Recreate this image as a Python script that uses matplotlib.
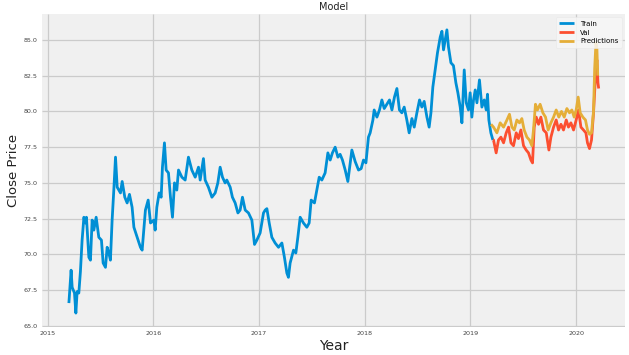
import matplotlib
matplotlib.use("Agg")
import matplotlib.pyplot as plt

plt.style.use("fivethirtyeight")

# decimal-year positions and close prices
train_year = [2015.201, 2015.222, 2015.232, 2015.254, 2015.267, 2015.279, 2015.295, 2015.310,
              2015.326, 2015.343, 2015.358, 2015.367, 2015.390, 2015.405, 2015.421, 2015.437,
              2015.459, 2015.484, 2015.509, 2015.525, 2015.547, 2015.563, 2015.579, 2015.594,
              2015.610, 2015.626, 2015.642, 2015.658, 2015.689, 2015.705, 2015.730, 2015.752,
              2015.774, 2015.799, 2015.816, 2015.847, 2015.878, 2015.894, 2015.910, 2015.925,
              2015.951, 2015.973, 2016.005, 2016.017, 2016.033, 2016.055, 2016.074, 2016.086,
              2016.105, 2016.121, 2016.143, 2016.162, 2016.181, 2016.200, 2016.222, 2016.238,
              2016.270, 2016.301, 2016.332, 2016.364, 2016.396, 2016.427, 2016.443, 2016.474,
              2016.490, 2016.521, 2016.554, 2016.585, 2016.610, 2016.632, 2016.654, 2016.679,
              2016.695, 2016.727, 2016.748, 2016.774, 2016.800, 2016.821, 2016.843, 2016.869,
              2016.900, 2016.932, 2016.957, 2016.979, 2017.010, 2017.042, 2017.058, 2017.074,
              2017.096, 2017.121, 2017.152, 2017.184, 2017.216, 2017.240, 2017.263, 2017.278,
              2017.294, 2017.326, 2017.348, 2017.367, 2017.389, 2017.420, 2017.452, 2017.474,
              2017.493, 2017.524, 2017.547, 2017.569, 2017.594, 2017.625, 2017.651, 2017.673,
              2017.694, 2017.720, 2017.746, 2017.767, 2017.789, 2017.815, 2017.840, 2017.862,
              2017.878, 2017.909, 2017.941, 2017.966, 2017.988, 2018.011, 2018.035, 2018.051,
              2018.077, 2018.089, 2018.115, 2018.139, 2018.162, 2018.184, 2018.209, 2018.234,
              2018.257, 2018.281, 2018.304, 2018.328, 2018.351, 2018.373, 2018.398, 2018.420,
              2018.446, 2018.468, 2018.493, 2018.518, 2018.540, 2018.562, 2018.588, 2018.609,
              2018.626, 2018.644, 2018.666, 2018.688, 2018.714, 2018.730, 2018.745, 2018.761,
              2018.777, 2018.792, 2018.815, 2018.839, 2018.862, 2018.881, 2018.903, 2018.919,
              2018.941, 2018.960, 2018.981, 2018.997, 2019.013, 2019.029, 2019.045, 2019.061,
              2019.085, 2019.108, 2019.130, 2019.149, 2019.161, 2019.174, 2019.193, 2019.212]
train_close = [66.6, 68.9, 67.7, 67.3, 65.9, 67.4, 67.3, 68.8,
               71.0, 72.6, 72.2, 72.6, 69.8, 69.6, 72.4, 71.7,
               72.6, 71.2, 71.0, 69.4, 69.1, 70.5, 70.1, 69.6,
               72.4, 74.5, 76.8, 74.7, 74.3, 75.1, 74.0, 73.6,
               74.2, 73.3, 71.9, 71.2, 70.5, 70.3, 71.7, 73.1,
               73.8, 72.2, 72.4, 71.7, 73.3, 74.3, 74.0, 76.1,
               77.8, 75.9, 75.7, 74.0, 72.6, 75.0, 74.5, 75.9,
               75.4, 75.2, 76.8, 75.9, 75.4, 76.1, 75.2, 76.7,
               75.2, 74.7, 74.0, 74.3, 75.0, 76.1, 75.4, 75.0,
               75.2, 74.7, 74.0, 73.6, 72.9, 73.1, 74.0, 73.1,
               72.9, 72.4, 70.7, 71.0, 71.5, 72.9, 73.1, 73.2,
               72.2, 71.2, 70.8, 70.5, 70.8, 69.8, 68.7, 68.4,
               69.4, 70.3, 70.1, 71.2, 72.6, 72.2, 71.9, 72.2,
               73.8, 73.6, 74.5, 75.4, 75.2, 75.7, 77.1, 76.6,
               77.1, 77.5, 76.8, 77.0, 76.6, 75.9, 75.1, 76.4,
               77.3, 76.5, 75.9, 76.0, 76.6, 76.4, 78.2, 78.5,
               79.4, 80.1, 79.6, 80.1, 80.8, 80.2, 80.5, 80.8,
               80.1, 81.0, 81.6, 80.1, 79.9, 80.3, 79.4, 78.5,
               79.5, 78.9, 79.9, 80.8, 80.3, 80.7, 79.6, 78.9,
               79.9, 81.7, 82.9, 84.1, 85.2, 85.6, 84.3, 85.0,
               85.7, 84.5, 83.4, 83.2, 82.0, 81.3, 80.3, 79.2,
               82.9, 80.6, 80.1, 81.3, 79.6, 80.8, 81.5, 80.6,
               82.2, 80.3, 80.8, 80.1, 81.2, 79.4, 78.5, 78.0]

val_year = [2019.212, 2019.218, 2019.243, 2019.265, 2019.288, 2019.313, 2019.338, 2019.360,
            2019.383, 2019.407, 2019.433, 2019.454, 2019.477, 2019.502, 2019.527, 2019.549,
            2019.572, 2019.587, 2019.603, 2019.622, 2019.644, 2019.666, 2019.691, 2019.717,
            2019.742, 2019.761, 2019.786, 2019.811, 2019.833, 2019.856, 2019.880, 2019.906,
            2019.927, 2019.950, 2019.975, 2020.000, 2020.022, 2020.045, 2020.069, 2020.092,
            2020.107, 2020.126, 2020.145, 2020.164, 2020.183, 2020.196, 2020.206, 2020.213]
val_close = [78.0, 78.0, 77.1, 78.0, 78.2, 77.8, 78.5, 78.9,
             77.8, 77.6, 78.5, 78.1, 78.7, 77.6, 77.3, 77.1,
             76.6, 76.4, 78.9, 79.6, 79.1, 79.6, 78.7, 78.5,
             77.3, 78.2, 78.9, 79.4, 78.7, 79.1, 78.7, 79.4,
             78.9, 79.2, 78.7, 79.4, 80.1, 78.9, 78.7, 78.5,
             77.8, 77.4, 78.0, 79.9, 82.5, 83.6, 82.0, 81.6]

pred_year = [2019.194, 2019.218, 2019.250, 2019.281, 2019.313, 2019.345, 2019.369, 2019.392,
             2019.414, 2019.439, 2019.464, 2019.486, 2019.508, 2019.534, 2019.558, 2019.581,
             2019.596, 2019.615, 2019.634, 2019.659, 2019.685, 2019.710, 2019.735, 2019.761,
             2019.786, 2019.811, 2019.836, 2019.861, 2019.887, 2019.912, 2019.937, 2019.959,
             2019.981, 2020.000, 2020.019, 2020.038, 2020.063, 2020.088, 2020.107, 2020.126,
             2020.145, 2020.164, 2020.175, 2020.187, 2020.196, 2020.204]
pred_close = [79.1, 78.9, 78.5, 79.2, 78.9, 79.4, 79.8, 78.9,
              78.7, 79.4, 79.2, 79.5, 78.7, 78.2, 78.0, 77.6,
              78.7, 80.5, 80.1, 80.5, 79.9, 79.6, 78.7, 79.2,
              79.6, 80.1, 79.6, 80.0, 79.6, 80.2, 79.9, 80.1,
              79.6, 80.1, 81.0, 79.9, 79.6, 79.4, 78.7, 78.4,
              78.5, 80.0, 83.0, 84.8, 84.4, 82.5]

year_ticks = [2015, 2016, 2017, 2018, 2019, 2020]

fig = plt.figure(figsize=(6.29, 3.55), dpi=100, facecolor="white")
ax = fig.add_axes([0.067, 0.079, 0.927, 0.882])
ax.set_facecolor("#f0f0f0")

ax.plot(train_year, train_close, color="#008fd5", lw=2.0, label="Train")
ax.plot(val_year, val_close, color="#fc4f30", lw=2.0, label="Val")
ax.plot(pred_year, pred_close, color="#e5ae38", lw=2.0, label="Predictions")

ax.set_xlim(2014.948, 2020.464)
ax.set_ylim(64.93, 86.82)
ax.set_xticks(year_ticks)
ax.set_xticklabels([str(y) for y in year_ticks])
ax.set_yticks([65.0, 67.5, 70.0, 72.5, 75.0, 77.5, 80.0, 82.5, 85.0])
ax.set_yticklabels(["65.0", "67.5", "70.0", "72.5", "75.0", "77.5", "80.0", "82.5", "85.0"])
ax.tick_params(axis="both", labelsize=4.6, colors="#444444", length=0, pad=3)
ax.grid(True, color="#cbcbcb", lw=0.9)
for s in ax.spines.values():
    s.set_visible(False)

ax.set_title("Model", fontsize=7, color="#222222", pad=3)
ax.set_xlabel("Year", fontsize=10, color="#222222", labelpad=2)
ax.set_ylabel("Close Price", fontsize=9.5, color="#222222", labelpad=3)

leg = ax.legend(loc="upper right", fontsize=5, frameon=True, handlelength=2.2,
                borderpad=0.5, labelspacing=0.4)
leg.get_frame().set_facecolor("#f7f7f7")
leg.get_frame().set_alpha(0.85)
leg.get_frame().set_edgecolor("#e8e8e8")

fig.savefig("out.png", dpi=100, facecolor="white")
